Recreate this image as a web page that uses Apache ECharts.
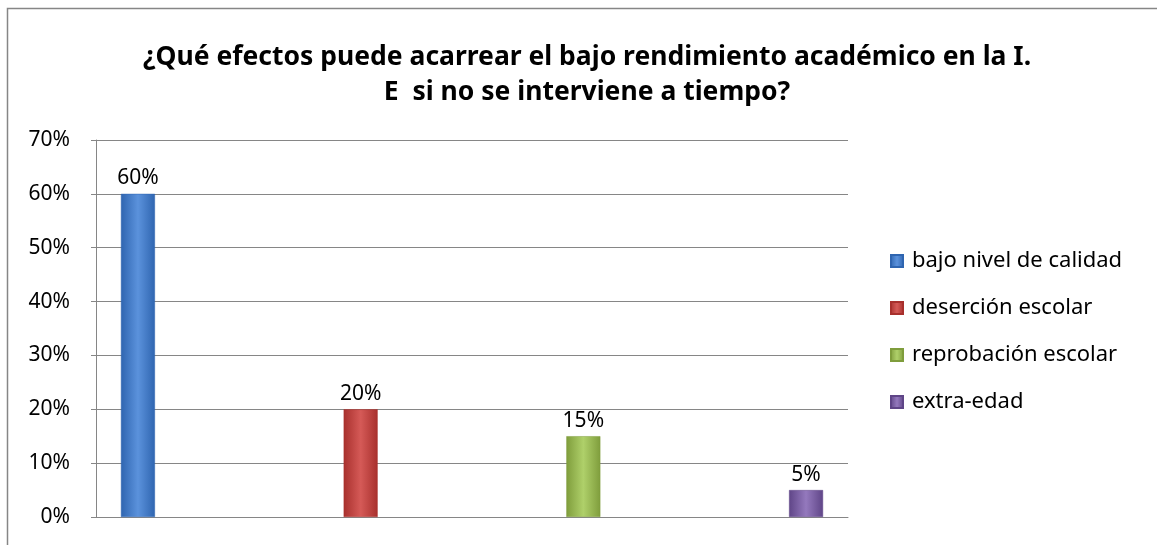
<!DOCTYPE html>
<html>
<head>
<meta charset="utf-8">
<script src="https://cdn.jsdelivr.net/npm/echarts@6/dist/echarts.min.js"></script>
<style>
  html, body { margin: 0; padding: 0; background: #fff; }
  #chart { width: 1157px; height: 545px; }
</style>
</head>
<body>
<div id="chart"></div>
<script>
// datos
const titleText = "¿Qué efectos puede acarrear el bajo rendimiento académico en la I.\nE  si no se interviene a tiempo?";
const categories = [""];
const seriesNames = ["bajo nivel de calidad", "deserción escolar", "reprobación escolar", "extra-edad"];
const values = [60, 20, 15, 5];
const yTicks = [0, 10, 20, 30, 40, 50, 60, 70];

// colores tipo Excel (borde, centro)
const colors = [
  ["#2f65b0", "#5b92dc"],
  ["#a8302d", "#d55a57"],
  ["#7f9d3c", "#afd06a"],
  ["#5f4587", "#9479bd"],
];

const font = "'Noto Sans', 'Open Sans', sans-serif";

const chart = echarts.init(document.getElementById("chart"));

const seriesArr = seriesNames.map((name, i) => ({
  name: name,
  type: "bar",
  data: [values[i]],
  barWidth: 34,
  barGap: "555%",
  itemStyle: {
    color: new echarts.graphic.LinearGradient(0, 0, 1, 0, [
      { offset: 0, color: colors[i][0] },
      { offset: 0.5, color: colors[i][1] },
      { offset: 1, color: colors[i][0] },
    ]),
    borderColor: colors[i][0],
    borderWidth: 0.5,
  },
  label: {
    show: true,
    position: "top",
    distance: 5,
    color: "#000",
    fontFamily: font,
    fontSize: 21,
    formatter: "{c}%",
  },
}));

const option = {
  animation: false,
  backgroundColor: "#fff",
  title: {
    text: titleText,
    left: 582,
    textAlign: "center",
    top: 35,
    textStyle: {
      fontFamily: font,
      fontWeight: "bold",
      fontSize: 26.5,
      lineHeight: 35,
      color: "#000",
    },
  },
  legend: {
    orient: "vertical",
    left: 885,
    top: 245,
    itemWidth: 12,
    itemHeight: 12,
    itemGap: 25,
    icon: "rect",
    textStyle: {
      fontFamily: font,
      fontSize: 22,
      lineHeight: 22,
      color: "#000",
      padding: [0, 0, 0, 4],
    },
    data: seriesNames,
  },
  grid: {
    left: 96,
    right: 309,
    top: 140,
    bottom: 28,
    containLabel: false,
  },
  xAxis: {
    type: "category",
    data: categories,
    axisLine: { lineStyle: { color: "#868686", width: 1 } },
    axisTick: { show: false },
    axisLabel: { show: false },
  },
  yAxis: {
    type: "value",
    min: yTicks[0],
    max: yTicks[yTicks.length - 1],
    interval: 10,
    axisLine: { show: true, lineStyle: { color: "#868686", width: 1 } },
    axisTick: { show: true, length: 5, lineStyle: { color: "#868686" } },
    splitLine: { lineStyle: { color: "#868686", width: 1 } },
    axisLabel: {
      fontFamily: font,
      fontSize: 21,
      color: "#000",
      margin: 26,
      formatter: "{value}%",
    },
  },
  graphic: [
    {
      type: "rect",
      shape: { x: 7.5, y: 8.5, width: 1170, height: 560 },
      style: { fill: "none", stroke: "#868686", lineWidth: 1.5 },
      silent: true,
    },
  ],
  series: seriesArr,
};

chart.setOption(option);
window.addEventListener("resize", () => chart.resize(), { passive: true });
</script>
</body>
</html>
